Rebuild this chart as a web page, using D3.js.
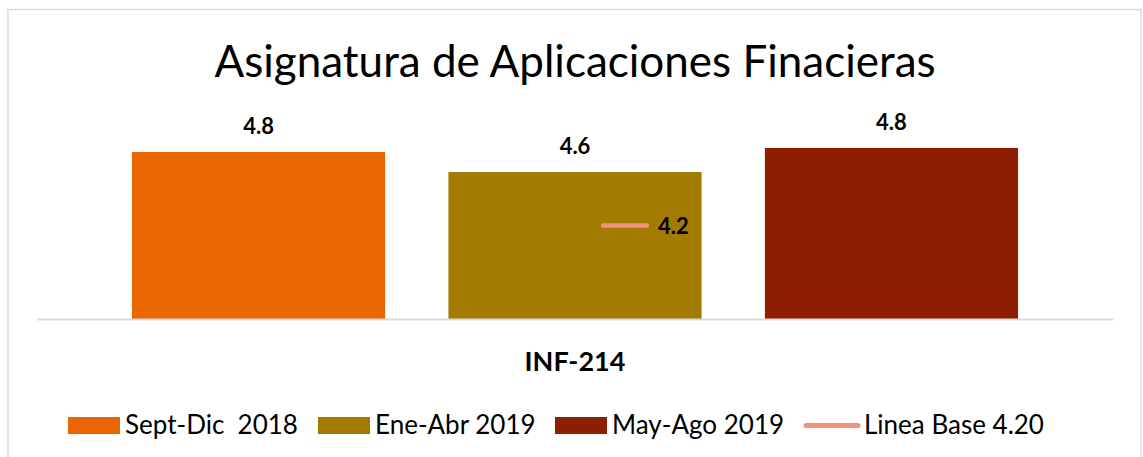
<!DOCTYPE html>
<html>
<head>
<meta charset="utf-8">
<script src="https://cdn.jsdelivr.net/npm/d3@7"></script>
<style>
  html, body { margin: 0; padding: 0; background: #fff; }
  text { font-family: Lato, "Open Sans", sans-serif; }
</style>
</head>
<body>
<div id="chart"></div>
<script>
const title = "Asignatura de Aplicaciones Finacieras";
const categories = ["INF-214"];
const series = ["Sept-Dic  2018", "Ene-Abr 2019", "May-Ago 2019"];
const values = [4.75, 4.6, 4.78];
const colors = ["#EA6600", "#A27B00", "#8E1E00"];
const baseName = "Linea Base 4.20";
const baseValue = 4.2;
const baseColor = "#F0937A";
const yDomain = [3.5, 5.0];

const width = 1143, height = 457;

const svg = d3.select("#chart").append("svg").attr("width", width).attr("height", height);

// chart frame
svg.append("rect").attr("x", 8).attr("y", 9.5).attr("width", 1133).attr("height", 450)
  .attr("fill", "#fff").attr("stroke", "#d9d9d9").attr("stroke-width", 1.5);

svg.append("text").attr("x", 575).attr("y", 77).attr("text-anchor", "middle")
  .attr("font-size", 44).attr("fill", "#000").text(title);

const y = d3.scaleLinear().domain(yDomain).range([319, 118.6]);
const x0 = d3.scaleBand().domain(categories).range([37, 1113]);
const x1 = d3.scaleBand().domain(series).range([0, x0.bandwidth()]).paddingInner(0.2).paddingOuter(0.3);

const g = svg.append("g");
const data = series.map((s, i) => ({ cat: categories[0], name: s, value: values[i], color: colors[i] }));

g.selectAll("rect.bar").data(data).enter().append("rect").attr("class", "bar")
  .attr("x", d => x0(d.cat) + x1(d.name))
  .attr("y", d => y(d.value))
  .attr("width", x1.bandwidth())
  .attr("height", d => y(yDomain[0]) - y(d.value))
  .attr("fill", d => d.color);

g.selectAll("text.lbl").data(data).enter().append("text").attr("class", "lbl")
  .attr("x", d => x0(d.cat) + x1(d.name) + x1.bandwidth() / 2)
  .attr("y", d => y(d.value) - 18)
  .attr("text-anchor", "middle").attr("font-size", 22).attr("font-weight", "bold")
  .text(d => d.value.toFixed(1));

// axis line
const xAxis = d3.axisBottom(x0).tickSize(0).tickFormat("");
const ax = svg.append("g").attr("transform", `translate(0,${y(yDomain[0])})`).call(xAxis);
ax.select(".domain").attr("stroke", "#d9d9d9").attr("stroke-width", 2);

svg.append("text").attr("x", x0(categories[0]) + x0.bandwidth() / 2).attr("y", 371)
  .attr("text-anchor", "middle").attr("font-size", 27).attr("font-weight", "bold").text(categories[0]);

// baseline marker
const bx = x0(categories[0]) + x0.bandwidth() / 2 + 50;
svg.append("line").attr("x1", bx - 22).attr("x2", bx + 22)
  .attr("y1", y(baseValue)).attr("y2", y(baseValue))
  .attr("stroke", baseColor).attr("stroke-width", 4.5).attr("stroke-linecap", "round");
svg.append("text").attr("x", bx + 33).attr("y", y(baseValue) + 9)
  .attr("font-size", 22).attr("font-weight", "bold").text(baseValue.toFixed(1));

// legend
const legendItems = series.map((s, i) => ({ name: s, color: colors[i], type: "rect" }))
  .concat([{ name: baseName, color: baseColor, type: "line" }]);
const legendX = [68, 318, 555, 804];
const lg = svg.append("g").selectAll("g").data(legendItems).enter().append("g")
  .attr("transform", (d, i) => `translate(${legendX[i]},417)`);
lg.filter(d => d.type === "rect").append("rect").attr("width", 52).attr("height", 17).attr("fill", d => d.color);
lg.filter(d => d.type === "line").append("line").attr("x1", 2).attr("x2", 54).attr("y1", 8.5).attr("y2", 8.5)
  .attr("stroke", d => d.color).attr("stroke-width", 5).attr("stroke-linecap", "round");
lg.append("text").attr("x", d => d.type === "line" ? 60 : 57).attr("y", 17)
  .attr("font-size", 26).attr("fill", "#000").attr("xml:space", "preserve")
  .style("white-space", "pre").text(d => d.name);
</script>
</body>
</html>
